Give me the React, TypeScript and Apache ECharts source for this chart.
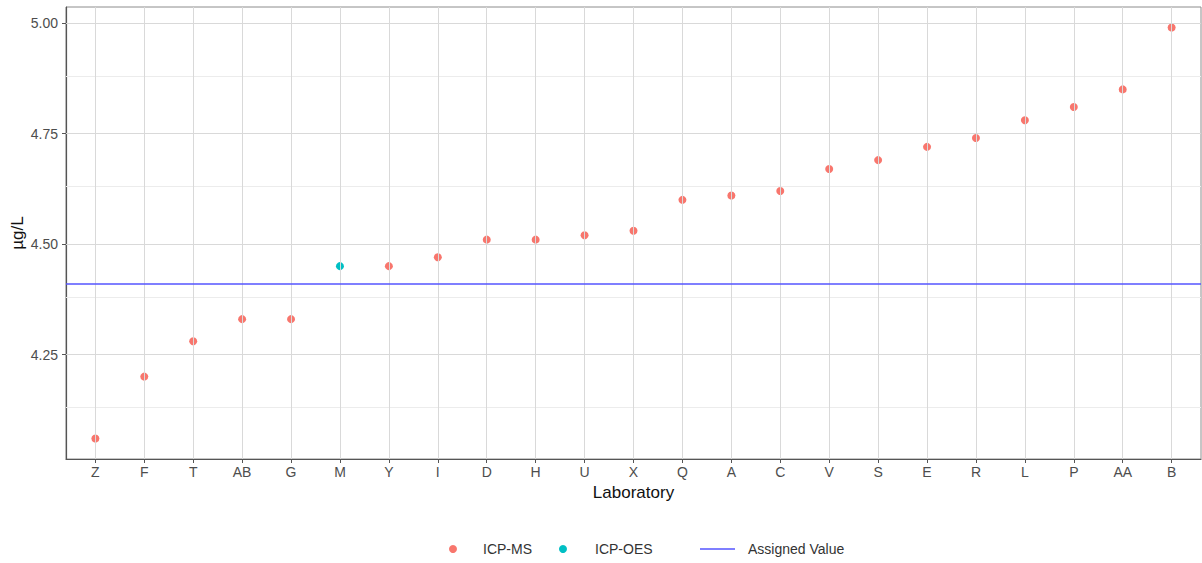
import React, { useEffect, useRef } from "react";
import * as echarts from "echarts";

const categories = ["Z","F","T","AB","G","M","Y","I","D","H","U","X","Q","A","C","V","S","E","R","L","P","AA","B"];
const values = [4.06,4.20,4.28,4.33,4.33,4.45,4.45,4.47,4.51,4.51,4.52,4.53,4.60,4.61,4.62,4.67,4.69,4.72,4.74,4.78,4.81,4.85,4.99];
const methods = ["ICP-MS","ICP-MS","ICP-MS","ICP-MS","ICP-MS","ICP-OES","ICP-MS","ICP-MS","ICP-MS","ICP-MS","ICP-MS","ICP-MS","ICP-MS","ICP-MS","ICP-MS","ICP-MS","ICP-MS","ICP-MS","ICP-MS","ICP-MS","ICP-MS","ICP-MS","ICP-MS"];
const assignedValue = 4.41;
const yMajorTicks = [4.25, 4.5, 4.75, 5.0];
const yMinorTicks = [4.125, 4.375, 4.625, 4.875];
const yRange = [4.0135, 5.0365];
const xRange = [-0.6, 22.6];

const FONT = "'Liberation Sans', Arial, Helvetica, sans-serif";

export default function App() {
  const ref = useRef<HTMLDivElement>(null);
  useEffect(() => {
    document.body.style.margin = "0";
    if (!ref.current) return;
    const chart = echarts.init(ref.current, undefined, { renderer: "svg" });
    const idx = categories.map((_, i) => i);
    const pts = (m: string) =>
      idx.filter((i) => methods[i] === m).map((i) => [i, values[i]]);
    const gridLineData: any[] = [
      ...yMinorTicks.map((v) => ({ yAxis: v, lineStyle: { color: "#ececec", width: 1, type: "solid" } })),
      ...yMajorTicks.map((v) => ({ yAxis: v, lineStyle: { color: "#d9d9d9", width: 1, type: "solid" } })),
      ...idx.map((i) => ({ xAxis: i, lineStyle: { color: "#d9d9d9", width: 1, type: "solid" } })),
    ];
    chart.setOption({
      animation: false,
      textStyle: { fontFamily: FONT },
      grid: {
        left: 66, top: 7, right: 1, bottom: 104,
        containLabel: false,
        outerBoundsMode: "none",
        show: true, borderColor: "#8c8c8c", borderWidth: 1,
      },
      xAxis: {
        type: "value",
        min: xRange[0],
        max: xRange[1],
        splitLine: { show: false },
        axisLine: { show: true, onZero: false, lineStyle: { color: "#555", width: 1.2 } },
        axisTick: { show: true, customValues: idx, length: 4, lineStyle: { color: "#555" } },
        axisLabel: {
          customValues: idx,
          formatter: (v: number) => categories[Math.round(v)] ?? "",
          fontSize: 14,
          color: "#4d4d4d",
          margin: 6,
          fontFamily: FONT,
        },
        name: "Laboratory",
        nameLocation: "middle",
        nameGap: 25,
        nameTextStyle: { fontSize: 17, color: "#111", fontFamily: FONT },
      },
      yAxis: {
        type: "value",
        min: yRange[0],
        max: yRange[1],
        splitLine: { show: false },
        axisLine: { show: true, onZero: false, lineStyle: { color: "#555", width: 1.2 } },
        axisTick: { show: true, customValues: yMajorTicks, length: 4, lineStyle: { color: "#555" } },
        axisLabel: {
          customValues: yMajorTicks,
          formatter: (v: number) => v.toFixed(2),
          fontSize: 14,
          color: "#4d4d4d",
          margin: 8,
          fontFamily: FONT,
        },
        name: "µg/L",
        nameLocation: "middle",
        nameGap: 40,
        nameMoveOverlap: false,
        nameTextStyle: { fontSize: 17, color: "#111", fontFamily: FONT },
      },
      legend: [
        {
          data: [{ name: "ICP-MS", icon: "circle" }],
          left: 449, top: 542, padding: 0, itemWidth: 8, itemHeight: 8,
          textStyle: { fontSize: 14, color: "#333", padding: [0, 0, 0, 21], fontFamily: FONT },
        },
        {
          data: [{ name: "ICP-OES", icon: "circle" }],
          left: 559, top: 542, padding: 0, itemWidth: 8, itemHeight: 8,
          textStyle: { fontSize: 14, color: "#333", padding: [0, 0, 0, 23], fontFamily: FONT },
        },
        {
          data: [{ name: "Assigned Value", icon: "rect" }],
          left: 700, top: 542, padding: 0, itemWidth: 35, itemHeight: 1.5,
          textStyle: { fontSize: 14, color: "#333", padding: [0, 0, 0, 8], fontFamily: FONT },
        },
      ],
      series: [
        {
          name: "grid",
          type: "line",
          data: [],
          silent: true,
          z: 0,
          markLine: { silent: true, symbol: "none", label: { show: false }, data: gridLineData, animation: false },
        },
        {
          name: "Assigned Value",
          type: "line",
          data: [],
          symbol: "none",
          z: 3,
          itemStyle: { color: "#5454ff" },
          lineStyle: { color: "#5454ff", width: 1.5 },
          markLine: {
            silent: true,
            symbol: "none",
            label: { show: false },
            lineStyle: { color: "#5454ff", width: 1.5, type: "solid" },
            data: [{ yAxis: assignedValue }],
          },
        },
        {
          name: "ICP-MS",
          type: "scatter",
          data: pts("ICP-MS"),
          symbolSize: 8,
          z: 4,
          itemStyle: { color: "#F8766D", opacity: 1 },
        },
        {
          name: "ICP-OES",
          type: "scatter",
          data: pts("ICP-OES"),
          symbolSize: 8,
          z: 4,
          itemStyle: { color: "#00BFC4", opacity: 1 },
        },
      ],
    });
    return () => chart.dispose();
  }, []);
  return <div ref={ref} style={{ width: 1202, height: 563 }} />;
}
